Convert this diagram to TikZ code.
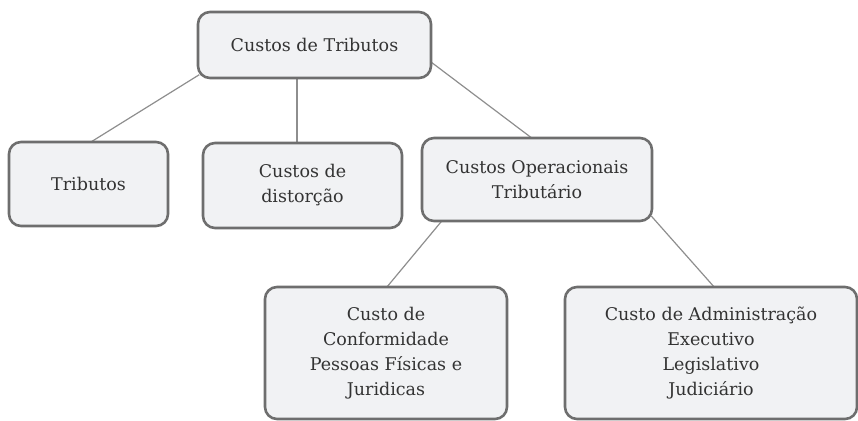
\documentclass[tikz,border=0pt]{standalone}
\usepackage{fontspec}
\setmainfont{DejaVu Serif}
\usetikzlibrary{backgrounds}
\definecolor{boxfill}{HTML}{F1F2F4}
\definecolor{boxline}{HTML}{6E6E6E}
\definecolor{linkline}{HTML}{8E8E8E}
\definecolor{txt}{HTML}{333333}
\begin{document}
\begin{tikzpicture}[x=1pt,y=-1pt,
  boxnode/.style={draw=boxline, line width=2.6pt, fill=boxfill, rounded corners=12pt,
    inner sep=0pt, align=center, text=txt,
    font=\fontsize{17.5}{25}\selectfont},
  link/.style={draw=linkline, line width=1.2pt, shorten <=-3pt, shorten >=-3pt}]
\useasboundingbox (0,0) rectangle (858,420);
\node[boxnode, minimum width=233pt, minimum height=66pt] (top) at (314.5,45) {Custos de Tributos};
\node[boxnode, minimum width=159pt, minimum height=84pt] (trib) at (88.5,184) {Tributos};
\node[boxnode, minimum width=199pt, minimum height=85pt] (dist) at (302.5,185.5) {Custos de\\distorção};
\node[boxnode, minimum width=230pt, minimum height=83pt] (oper) at (537,179.5) {Custos Operacionais\\Tributário};
\node[boxnode, minimum width=242pt, minimum height=132pt] (conf) at (386,353) {Custo de\\Conformidade\\Pessoas Físicas e\\Juridicas};
\node[boxnode, minimum width=292pt, minimum height=132pt] (adm) at (711,353) {Custo de Administração\\Executivo\\Legislativo\\Judiciário};
\begin{pgfonlayer}{background}
\draw[link] ([yshift=3pt]top.south west) -- ([xshift=4.5pt]trib.north);
\draw[link] ([xshift=-17.5pt]top.south) -- ([xshift=-5.5pt]dist.north);
\draw[link] ([yshift=-18pt]top.east) -- ([xshift=-7pt]oper.north);
\draw[link] ([xshift=20pt]oper.south west) -- ([xshift=2pt]conf.north);
\draw[link] ([yshift=4pt]oper.south east) -- ([xshift=2pt]adm.north);
\end{pgfonlayer}
\end{tikzpicture}
\end{document}
